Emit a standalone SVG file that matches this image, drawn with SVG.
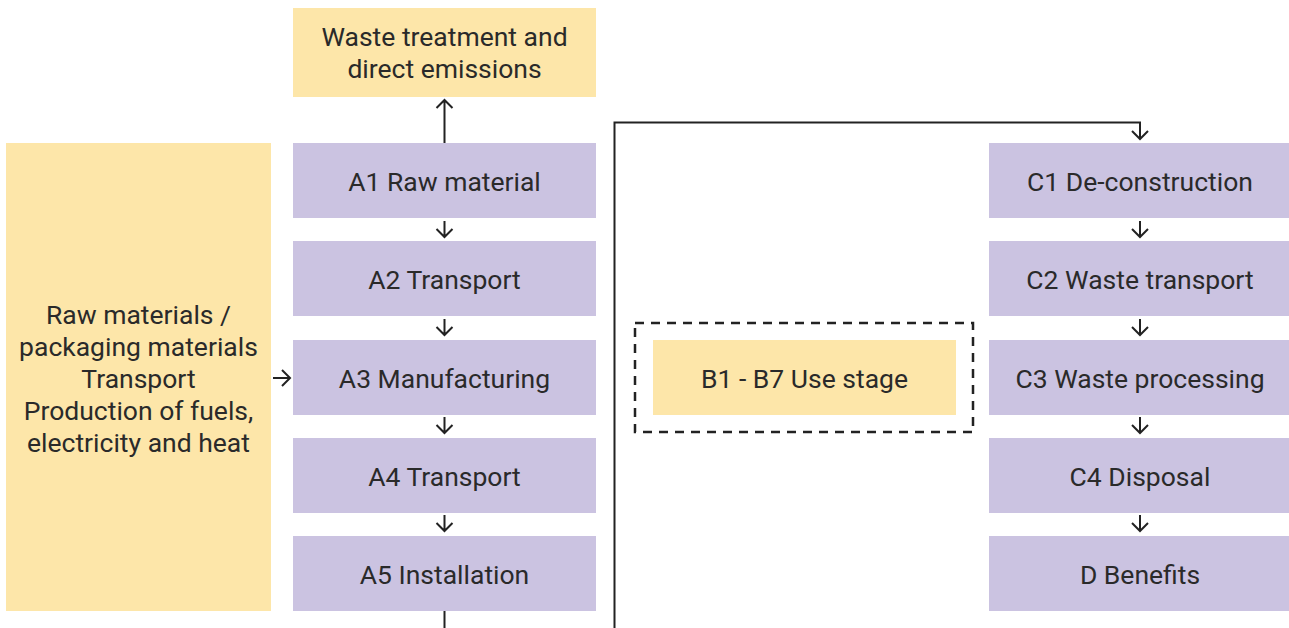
<svg xmlns="http://www.w3.org/2000/svg" width="1289" height="628" viewBox="0 0 1289 628">
<style>
.y{fill:#FDE6A9}
.p{fill:#CBC3E1}
text{font-family:Roboto,"Liberation Sans",sans-serif;font-size:26.5px;fill:#2a2a2a;text-anchor:middle}
.h{fill:none;stroke:#222;stroke-width:2;stroke-linecap:butt;stroke-linejoin:miter}
</style>
<rect width="1289" height="628" fill="#fff"/>
<g id="waste"><rect class="y" x="293" y="8" width="303" height="89"/><text x="444.5" y="46">Waste treatment and</text><text x="444.5" y="78">direct emissions</text></g>
<g id="inputs"><rect class="y" x="6" y="143" width="265" height="468"/>
<text x="138.5" y="323.5">Raw materials /</text><text x="138.5" y="355.5">packaging materials</text><text x="138.5" y="387.5">Transport</text><text x="138.5" y="419.5">Production of fuels,</text><text x="138.5" y="451.5">electricity and heat</text></g>
<g id="a1"><rect class="p" x="293" y="143" width="303" height="75"/><text x="444.5" y="190.5">A1 Raw material</text></g>
<g id="a2"><rect class="p" x="293" y="241" width="303" height="75"/><text x="444.5" y="288.5">A2 Transport</text></g>
<g id="a3"><rect class="p" x="293" y="340" width="303" height="75"/><text x="444.5" y="387.5">A3 Manufacturing</text></g>
<g id="a4"><rect class="p" x="293" y="438" width="303" height="75"/><text x="444.5" y="485.5">A4 Transport</text></g>
<g id="a5"><rect class="p" x="293" y="536" width="303" height="75"/><text x="444.5" y="583.5">A5 Installation</text></g>
<g id="usestage"><rect x="635" y="323" width="338" height="109" fill="none" stroke="#222" stroke-width="2.5" stroke-dasharray="9,7"/><rect class="y" x="653" y="340" width="303" height="75"/><text x="804.5" y="388">B1 - B7 Use stage</text></g>
<g id="c1"><rect class="p" x="989" y="143" width="300" height="75"/><text x="1140" y="190.5">C1 De-construction</text></g>
<g id="c2"><rect class="p" x="989" y="241" width="300" height="75"/><text x="1140" y="288.5">C2 Waste transport</text></g>
<g id="c3"><rect class="p" x="989" y="340" width="300" height="75"/><text x="1140" y="387.5">C3 Waste processing</text></g>
<g id="c4"><rect class="p" x="989" y="438" width="300" height="75"/><text x="1140" y="485.5">C4 Disposal</text></g>
<g id="d"><rect class="p" x="989" y="536" width="300" height="75"/><text x="1140" y="583.5">D Benefits</text></g>
<g id="connectors">
<path class="h" d="M444.5 143V100M436.5 108l8-8 8 8"/>
<path class="h" d="M444.5 221V237M436.5 229l8 8 8-8"/>
<path class="h" d="M444.5 319V335M436.5 327l8 8 8-8"/>
<path class="h" d="M444.5 417V433M436.5 425l8 8 8-8"/>
<path class="h" d="M444.5 515V531M436.5 523l8 8 8-8"/>
<path class="h" d="M444.5 611V628"/>
<path class="h" d="M273 378H290M282 370l8 8-8 8"/>
<path class="h" stroke-width="2.5" d="M614.5 628V122.5H1140V139"/>
<path class="h" d="M1132 131l8 8 8-8"/>
<path class="h" d="M1140 221V237M1132 229l8 8 8-8"/>
<path class="h" d="M1140 319V335M1132 327l8 8 8-8"/>
<path class="h" d="M1140 417V433M1132 425l8 8 8-8"/>
<path class="h" d="M1140 515V531M1132 523l8 8 8-8"/>
</g>
</svg>
